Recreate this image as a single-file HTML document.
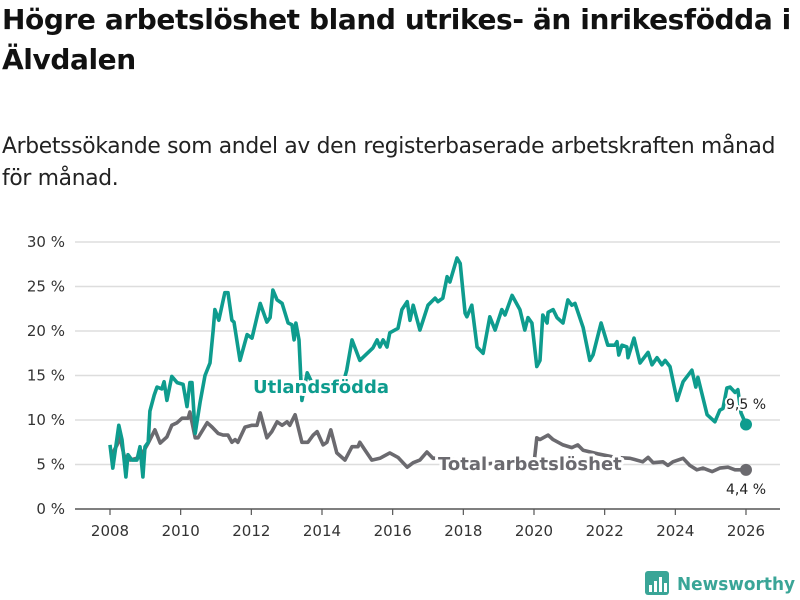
<!DOCTYPE html>
<html><head><meta charset="utf-8">
<style>
body{margin:0;background:#fff;width:800px;height:600px;overflow:hidden;font-family:"Liberation Sans","DejaVu Sans",sans-serif}
h1{position:absolute;left:2px;top:0;margin:0;font-size:28px;line-height:40px;font-weight:bold;color:#111;font-family:"DejaVu Sans",sans-serif;letter-spacing:-0.4px;width:800px;white-space:nowrap}
.sub{position:absolute;left:2px;top:131px;margin:0;font-size:21.8px;line-height:32px;color:#222;font-family:"DejaVu Sans",sans-serif;letter-spacing:-0.3px;white-space:nowrap}
svg{position:absolute;left:0;top:0}
</style></head><body>
<h1>Högre arbetslöshet bland utrikes- än inrikesfödda i<br>Älvdalen</h1>
<p class="sub">Arbetssökande som andel av den registerbaserade arbetskraften månad<br>för månad.</p>
<svg id="chart" width="800" height="600"></svg>
<script>
const yTicks=[0,5,10,15,20,25,30];
const yTickLabels=["0 %","5 %","10 %","15 %","20 %","25 %","30 %"];
const xTicks=[2008,2010,2012,2014,2016,2018,2020,2022,2024,2026];
const utlDates=[2008.00,2008.08,2008.25,2008.34,2008.45,2008.51,2008.62,2008.76,2008.85,2008.93,2008.99,2009.08,2009.13,2009.25,2009.33,2009.47,2009.53,2009.61,2009.75,2009.90,2010.07,2010.18,2010.26,2010.32,2010.41,2010.55,2010.69,2010.83,2010.92,2010.97,2011.08,2011.25,2011.34,2011.45,2011.51,2011.68,2011.88,2012.02,2012.25,2012.44,2012.53,2012.61,2012.73,2012.87,2013.04,2013.15,2013.21,2013.26,2013.35,2013.43,2013.58,2013.80,2014.08,2014.37,2014.59,2014.70,2014.85,2015.07,2015.44,2015.56,2015.64,2015.73,2015.84,2015.92,2016.15,2016.26,2016.41,2016.49,2016.58,2016.77,2016.86,2017.00,2017.20,2017.28,2017.42,2017.54,2017.62,2017.82,2017.91,2018.05,2018.10,2018.24,2018.39,2018.56,2018.75,2018.90,2019.09,2019.18,2019.38,2019.60,2019.74,2019.83,2019.94,2020.08,2020.17,2020.25,2020.37,2020.40,2020.54,2020.65,2020.82,2020.96,2021.07,2021.16,2021.39,2021.58,2021.67,2021.90,2022.09,2022.29,2022.35,2022.40,2022.49,2022.63,2022.66,2022.83,2023.00,2023.23,2023.34,2023.48,2023.62,2023.71,2023.85,2024.05,2024.22,2024.47,2024.58,2024.64,2024.90,2025.12,2025.26,2025.35,2025.46,2025.55,2025.69,2025.77,2025.86,2026.00];
const utlValues=[7.2,4.6,9.4,7.8,3.6,6.1,5.5,5.5,7.0,3.6,7.0,7.5,11.0,12.8,13.7,13.5,14.3,12.2,14.9,14.2,14.0,11.5,14.2,14.2,8.5,12.0,15.0,16.4,20.1,22.4,21.2,24.3,24.3,21.2,21.0,16.7,19.6,19.2,23.1,21.0,21.5,24.6,23.5,23.1,20.9,20.7,19.0,20.9,19.0,12.2,15.3,13.5,14.0,14.5,14.0,15.6,19.0,16.7,18.1,19.0,18.2,19.0,18.2,19.8,20.3,22.4,23.3,21.2,22.9,20.1,21.2,22.9,23.7,23.3,23.7,26.1,25.5,28.2,27.6,22.0,21.6,22.9,18.2,17.5,21.6,20.1,22.4,21.8,24.0,22.4,20.1,21.5,20.9,16.0,16.7,21.8,20.9,22.1,22.4,21.5,20.9,23.5,22.9,23.1,20.4,16.7,17.3,20.9,18.4,18.4,18.8,17.3,18.4,18.2,17.0,19.2,16.4,17.6,16.2,17.0,16.2,16.7,16.0,12.2,14.3,15.6,13.7,14.8,10.6,9.8,11.1,11.3,13.6,13.7,13.1,13.4,10.8,9.5];
const totDates=[2008.00,2008.08,2008.20,2008.28,2008.40,2008.57,2008.85,2009.08,2009.27,2009.42,2009.61,2009.75,2009.90,2010.04,2010.21,2010.26,2010.41,2010.49,2010.75,2010.89,2011.06,2011.20,2011.34,2011.45,2011.54,2011.62,2011.82,2012.02,2012.16,2012.25,2012.44,2012.58,2012.73,2012.87,2013.01,2013.09,2013.24,2013.43,2013.60,2013.75,2013.86,2014.03,2014.14,2014.25,2014.42,2014.65,2014.85,2015.02,2015.07,2015.22,2015.41,2015.64,2015.92,2016.15,2016.41,2016.58,2016.77,2016.97,2017.14,2017.5,2018.0,2018.5,2019.0,2019.5,2020.0,2020.08,2020.17,2020.40,2020.54,2020.82,2021.07,2021.24,2021.39,2021.8,2022.3,2022.72,2023.08,2023.23,2023.37,2023.65,2023.79,2023.93,2024.22,2024.41,2024.61,2024.78,2025.04,2025.26,2025.49,2025.69,2026.00];
const totValues=[6.4,6.3,7.2,8.1,6.0,5.5,5.8,7.4,8.9,7.4,8.1,9.4,9.7,10.2,10.2,10.9,8.0,8.0,9.7,9.2,8.5,8.3,8.3,7.5,7.8,7.5,9.2,9.4,9.4,10.8,8.0,8.7,9.8,9.4,9.8,9.4,10.6,7.5,7.5,8.3,8.7,7.2,7.5,8.9,6.3,5.5,7.0,7.0,7.5,6.6,5.5,5.7,6.3,5.8,4.7,5.2,5.5,6.4,5.7,5.8,5.4,5.0,5.2,5.0,5.1,8.0,7.8,8.3,7.8,7.2,6.9,7.2,6.6,6.2,5.8,5.7,5.3,5.8,5.2,5.3,4.9,5.3,5.7,4.9,4.4,4.6,4.2,4.6,4.7,4.4,4.4];

const svg=document.getElementById('chart');
const NS='http://www.w3.org/2000/svg';
const X=v=>110+(v-2008)*35.333;
const Y=v=>509-v*8.9;
function mk(tag,attrs,parent){const e=document.createElementNS(NS,tag);for(const k in attrs)e.setAttribute(k,attrs[k]);(parent||svg).appendChild(e);return e;}
yTicks.forEach((t,i)=>{
  const l=mk('line',{x1:75,x2:780,y1:Y(t),y2:Y(t),stroke:t===0?'#555':'#ddd','stroke-width':1.5});
  
  
  const tx=mk('text',{x:65,y:Y(t)+5,'text-anchor':'end','font-size':15,fill:'#333','font-family':'DejaVu Sans, sans-serif'});
  tx.textContent=yTickLabels[i];
  
  
});
xTicks.forEach(t=>{
  const l=mk('line',{x1:X(t),x2:X(t),y1:509,y2:515,stroke:'#555','stroke-width':1.2});
  
  
  const tx=mk('text',{x:X(t),y:536,'text-anchor':'middle','font-size':15,fill:'#333','font-family':'DejaVu Sans, sans-serif'});
  tx.textContent=String(t);
  
  
});
function line(d,v,c,name){
  const p=mk('path',{d:d.map((x,i)=>(i?'L':'M')+X(x).toFixed(1)+','+Y(v[i]).toFixed(1)).join(''),fill:'none',stroke:c,'stroke-width':3.6,'stroke-linejoin':'round'});
  
  
  const n=d.length-1;
  const dot=mk('circle',{cx:X(d[n]),cy:Y(v[n]),r:6,fill:c});
  
  
}
line(totDates,totValues,'#6b6a6f','total-line');
line(utlDates,utlValues,'#0e9c8e','utlandsfodda-line');
function label(x,y,txt,c,size,bold,anchor,name){
  const t=mk('text',{x:x,y:y,'font-size':size,fill:c,'font-weight':bold?'bold':'normal','text-anchor':anchor||'start',stroke:'#fff','stroke-width':bold?6:4,'paint-order':'stroke','stroke-linejoin':'round','font-family':'DejaVu Sans, sans-serif'});
  t.textContent=txt;
  
  
}
label(253,393,'Utlandsfödda','#0e9c8e',18,true,'start','utlandsfodda-label');
label(438,470,'Total arbetslöshet','#6b6a6f',18,true,'start','total-label');
label(746,409,'9,5 %','#222',14,false,'middle','utlandsfodda-end-value');
label(746,494,'4,4 %','#222',14,false,'middle','total-end-value');
const g=mk('g',{});


mk('rect',{x:645,y:571,width:24,height:24,rx:3,fill:'#3aa597'},g);
[[649,585,3,7],[654,581,3,11],[659,577,3,15],[664,583,3,9]].forEach(r=>mk('rect',{x:r[0],y:r[1],width:r[2],height:r[3],fill:'#fff'},g));
const lt=mk('text',{x:677,y:590,'font-size':18,'font-weight':'bold',fill:'#3aa597','font-family':'DejaVu Sans, sans-serif','textLength':118,'lengthAdjust':'spacingAndGlyphs'},g);
lt.textContent='Newsworthy';
</script>
</body></html>
